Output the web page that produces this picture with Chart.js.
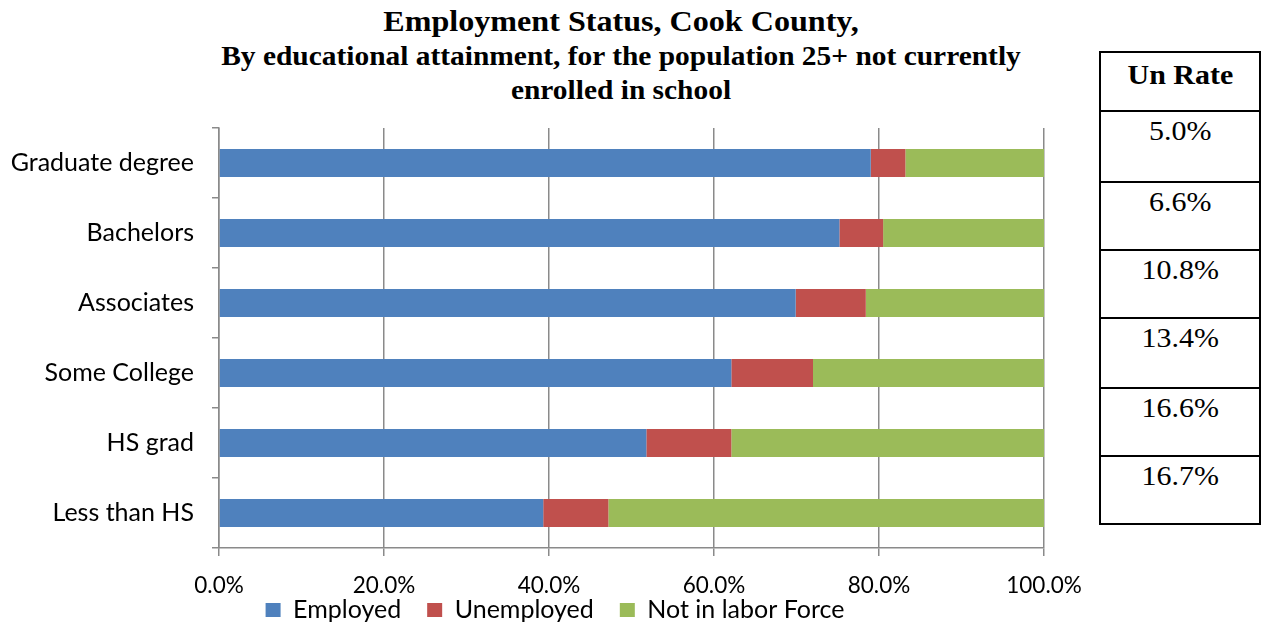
<!DOCTYPE html>
<html>
<head>
<meta charset="utf-8">
<script src="https://cdn.jsdelivr.net/npm/chart.js@4"></script>
<style>
  body { margin: 0; background: #fff; width: 1263px; height: 626px; position: relative; overflow: hidden; }
  #chartWrap { position: absolute; left: 0; top: 0; width: 1098px; height: 626px; }
  #title { position: absolute; left: 171px; top: 3px; width: 900px; text-align: center;
    font-family: "Liberation Serif", serif; font-weight: bold; color: #000;
    transform: scaleX(1.07); transform-origin: 50% 0; }
  #title .l1 { font-size: 30px; line-height: 36px; }
  #title .l2 { font-size: 27.5px; line-height: 34px; }
  .cell { position: absolute; left: 1099px; width: 162px; box-sizing: border-box;
    border: 2px solid #000; text-align: center; font-family: "Liberation Serif", serif;
    font-size: 28px; line-height: 32px; color: #000; }
  .cell span { display: inline-block; transform: scaleX(1.07); }
  .cell.head { font-weight: bold; }
</style>
</head>
<body>
<div id="title">
  <div class="l1">Employment Status, Cook County,</div>
  <div class="l2">By educational attainment, for the population 25+ not currently<br>enrolled in school</div>
</div>
<div id="chartWrap"><canvas id="chart" width="1098" height="626"></canvas></div>
<div id="rateTable"></div>
<script>
// categories, top to bottom
const categories = ["Graduate degree", "Bachelors", "Associates", "Some College", "HS grad", "Less than HS"];
// percent of population 25+
const employed   = [79.0, 75.2, 69.9, 62.1, 51.8, 39.3];
const unemployed = [4.2, 5.3, 8.5, 9.9, 10.3, 7.9];
const notInLabor = [16.8, 19.5, 21.6, 28.0, 37.9, 52.8];
const seriesNames = ["Employed", "Unemployed", "Not in labor Force"];
const tableHeader = "Un Rate";
const unRate = ["5.0%", "6.6%", "10.8%", "13.4%", "16.6%", "16.7%"];

// side table: y of each horizontal rule
const rowLines = [52, 111, 182, 250, 318, 388, 456, 524];
const table = document.getElementById("rateTable");
[tableHeader, ...unRate].forEach((txt, i) => {
  const d = document.createElement("div");
  d.className = "cell" + (i === 0 ? " head" : "");
  d.style.top = (rowLines[i] - 1) + "px";
  d.style.height = (rowLines[i + 1] - rowLines[i] + 2) + "px";
  d.style.paddingTop = (i === 0 ? 6 : 3) + "px";
  d.innerHTML = "<span>" + txt + "</span>";
  table.appendChild(d);
});

const axisGray = "#8a8a8a";
const catFont = { family: "Lato", size: 25 };
const tickFont = { family: "Lato", size: 22.5 };

// nudge the legend: closer to the axis labels and centred under the plot
const legendNudge = {
  id: "legendNudge",
  afterLayout(chart) {
    const lg = chart.legend;
    lg.top -= 26.5; lg.bottom -= 26.5;
    lg.left += 33; lg.right += 33;
  }
};

new Chart(document.getElementById("chart"), {
  type: "bar",
  data: {
    labels: categories,
    datasets: [
      { label: seriesNames[0], data: employed, backgroundColor: "#4F81BD" },
      { label: seriesNames[1], data: unemployed, backgroundColor: "#C0504D" },
      { label: seriesNames[2], data: notInLabor, backgroundColor: "#9BBB59" }
    ]
  },
  options: {
    indexAxis: "y",
    responsive: false,
    animation: false,
    datasets: { bar: { barPercentage: 0.4, categoryPercentage: 1.0 } },
    layout: { padding: { top: 128, left: 0, right: 54, bottom: -33 } },
    scales: {
      x: {
        stacked: true,
        min: 0,
        max: 100,
        ticks: {
          stepSize: 20,
          color: "#000",
          font: tickFont,
          padding: 16,
          callback: v => v.toFixed(1) + "%"
        },
        grid: { color: axisGray, lineWidth: 1.5, tickLength: 8 },
        border: { color: axisGray, width: 1.5 },
        afterFit: s => { s.height = 50; }
      },
      y: {
        stacked: true,
        ticks: { color: "#000", font: catFont, padding: 18 },
        grid: { drawOnChartArea: false, color: axisGray, lineWidth: 1.5, tickLength: 7, offset: true },
        border: { color: axisGray, width: 1.5 },
        afterFit: s => { s.width = 219; }
      }
    },
    plugins: {
      legend: {
        position: "bottom",
        labels: { font: catFont, color: "#000", boxWidth: 15, boxHeight: 14, padding: 26 }
      },
      tooltip: { enabled: false }
    }
  },
  plugins: [legendNudge]
});
</script>
</body>
</html>
